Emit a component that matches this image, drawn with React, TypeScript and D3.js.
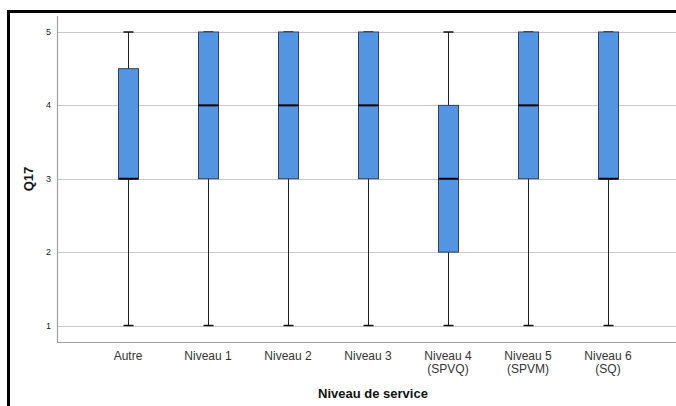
import { useEffect, useRef } from 'react';
import * as d3 from 'd3';

const categories = ['Autre', 'Niveau 1', 'Niveau 2', 'Niveau 3', 'Niveau 4\n(SPVQ)', 'Niveau 5\n(SPVM)', 'Niveau 6\n(SQ)'];
const whiskerLow = [1, 1, 1, 1, 1, 1, 1];
const q1 = [3, 3, 3, 3, 2, 3, 3];
const median = [3, 4, 4, 4, 3, 4, 3];
const q3 = [4.5, 5, 5, 5, 4, 5, 5];
const whiskerHigh = [5, 5, 5, 5, 5, 5, 5];
const yTicks = [1, 2, 3, 4, 5];

const BOX_FILL = '#5495e3';

export default function App() {
  const svgRef = useRef<SVGSVGElement>(null);

  useEffect(() => {
    if (!svgRef.current) return;
    const W = 676;
    const H = 406;
    const svg = d3.select(svgRef.current);
    svg.selectAll('*').remove();

    const left = 57, top = 16, right = 676, bottom = 342;

    const x = d3.scalePoint<string>().domain(categories).range([128, 608]);
    const y = d3.scaleLinear().domain([1, 5]).range([325.5, 32]);

    const font = 'Arial, "Liberation Sans", sans-serif';

    // frame
    svg.append('rect').attr('x', 0).attr('y', 0).attr('width', W).attr('height', H).attr('fill', '#fff');
    svg.append('line').attr('x1', 8.5).attr('x2', 8.5).attr('y1', 10).attr('y2', H)
      .attr('stroke', '#000').attr('stroke-width', 3);
    svg.append('line').attr('x1', 7).attr('x2', W).attr('y1', 11.5).attr('y2', 11.5)
      .attr('stroke', '#000').attr('stroke-width', 3);

    // grid
    svg.append('g').selectAll('line').data(yTicks).join('line')
      .attr('x1', left).attr('x2', right)
      .attr('y1', (d) => Math.round(y(d)) + 0.5).attr('y2', (d) => Math.round(y(d)) + 0.5)
      .attr('stroke', '#c8c8c8').attr('stroke-width', 1);

    // axes lines
    svg.append('line').attr('x1', left + 0.5).attr('x2', left + 0.5).attr('y1', top).attr('y2', bottom)
      .attr('stroke', '#a0a0a0').attr('stroke-width', 1.2);
    svg.append('line').attr('x1', left).attr('x2', right).attr('y1', bottom + 0.5).attr('y2', bottom + 0.5)
      .attr('stroke', '#a0a0a0').attr('stroke-width', 1.2);

    // y tick labels
    svg.append('g').selectAll('text').data(yTicks).join('text')
      .attr('x', 51).attr('y', (d) => y(d))
      .attr('text-anchor', 'end').attr('dominant-baseline', 'central')
      .attr('font-family', font).attr('font-size', 9).attr('fill', '#222')
      .text((d) => d);

    // boxes
    const idx = d3.range(categories.length);
    const boxW = 20;
    const capW = 10;
    const g = svg.append('g');
    idx.forEach((i) => {
      const cx = Math.round(x(categories[i])!) + 0.5;
      g.append('line').attr('x1', cx).attr('x2', cx)
        .attr('y1', y(whiskerLow[i])).attr('y2', y(whiskerHigh[i]))
        .attr('stroke', '#222').attr('stroke-width', 1);
      [whiskerLow[i], whiskerHigh[i]].forEach((v) => {
        g.append('line').attr('x1', cx - capW / 2).attr('x2', cx + capW / 2)
          .attr('y1', y(v)).attr('y2', y(v))
          .attr('stroke', '#111').attr('stroke-width', 1.5);
      });
      g.append('rect')
        .attr('x', cx - boxW / 2).attr('width', boxW)
        .attr('y', y(q3[i])).attr('height', y(q1[i]) - y(q3[i]))
        .attr('fill', BOX_FILL).attr('stroke', '#3a3f4a').attr('stroke-width', 1);
      g.append('line').attr('x1', cx - boxW / 2).attr('x2', cx + boxW / 2)
        .attr('y1', y(median[i])).attr('y2', y(median[i]))
        .attr('stroke', '#000').attr('stroke-width', 2);
    });

    // x tick labels
    const xl = svg.append('g');
    categories.forEach((c) => {
      const t = xl.append('text')
        .attr('x', x(c)!).attr('y', 360)
        .attr('text-anchor', 'middle')
        .attr('font-family', font).attr('font-size', 12).attr('fill', '#333');
      c.split('\n').forEach((line, j) => {
        t.append('tspan').attr('x', x(c)!).attr('dy', j === 0 ? 0 : 13).text(line);
      });
    });

    // axis titles
    svg.append('text')
      .attr('x', 373).attr('y', 398)
      .attr('text-anchor', 'middle')
      .attr('font-family', font).attr('font-size', 13).attr('font-weight', 'bold').attr('fill', '#111')
      .text('Niveau de service');

    svg.append('text')
      .attr('transform', `translate(33,${(top + bottom) / 2}) rotate(-90)`)
      .attr('text-anchor', 'middle')
      .attr('font-family', font).attr('font-size', 13).attr('font-weight', 'bold').attr('fill', '#111')
      .text('Q17');
  }, []);

  return (
    <svg ref={svgRef} width={676} height={406}
      style={{ position: 'fixed', left: 0, top: 0, display: 'block' }} />
  );
}
